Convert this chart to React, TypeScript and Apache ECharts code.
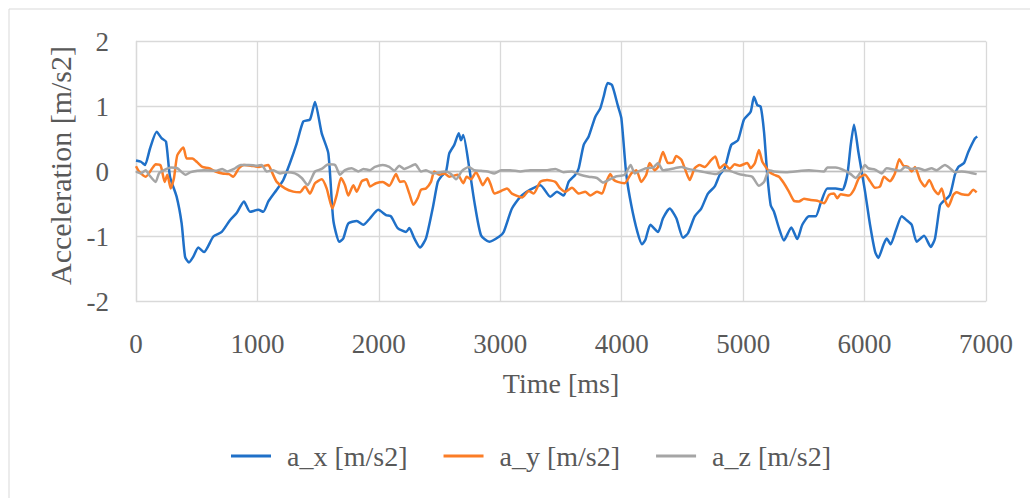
import React, { useEffect, useRef } from "react";
import * as echarts from "echarts";

const xTicks = [0, 1000, 2000, 3000, 4000, 5000, 6000, 7000];
const yTicks = [-2, -1, 0, 1, 2];

const axTime = [0, 41, 74, 115, 170, 212, 247, 280, 335, 376, 404, 436, 472, 513, 560, 637, 706, 774, 829, 889, 939, 1007, 1048, 1090, 1159, 1213, 1268, 1323, 1378, 1433, 1474, 1529, 1584, 1625, 1674, 1707, 1748, 1818, 1872, 1927, 1995, 2059, 2100, 2155, 2224, 2251, 2292, 2339, 2388, 2443, 2485, 2512, 2553, 2580, 2621, 2658, 2676, 2695, 2745, 2786, 2841, 2910, 2992, 3028, 3096, 3165, 3247, 3330, 3412, 3467, 3522, 3563, 3618, 3646, 3687, 3728, 3782, 3823, 3851, 3884, 3920, 3967, 3997, 4038, 4079, 4129, 4167, 4195, 4236, 4299, 4340, 4395, 4450, 4505, 4546, 4601, 4655, 4710, 4766, 4807, 4848, 4902, 4957, 5007, 5062, 5089, 5117, 5144, 5172, 5199, 5227, 5254, 5295, 5336, 5397, 5446, 5487, 5542, 5597, 5638, 5693, 5762, 5817, 5858, 5886, 5913, 5949, 6004, 6045, 6086, 6113, 6155, 6182, 6215, 6259, 6306, 6347, 6388, 6429, 6490, 6545, 6580, 6621, 6648, 6703, 6744, 6772, 6819, 6854, 6909, 6928];
const axValue = [0.17, 0.15, 0.1, 0.35, 0.61, 0.51, 0.46, -0.08, -0.39, -0.8, -1.31, -1.4, -1.31, -1.17, -1.24, -1.0, -0.93, -0.75, -0.64, -0.46, -0.62, -0.59, -0.62, -0.46, -0.28, -0.13, 0.13, 0.43, 0.77, 0.8, 1.07, 0.59, 0.28, -0.75, -1.08, -1.03, -0.8, -0.76, -0.82, -0.72, -0.59, -0.67, -0.69, -0.87, -0.93, -0.87, -1.03, -1.17, -1.03, -0.57, -0.16, -0.08, 0.0, 0.28, 0.41, 0.59, 0.48, 0.56, 0.05, -0.46, -0.98, -1.08, -1.0, -0.93, -0.57, -0.39, -0.28, -0.21, -0.39, -0.31, -0.37, -0.16, -0.05, 0.05, 0.41, 0.54, 0.84, 0.97, 1.15, 1.36, 1.33, 1.02, 0.82, -0.05, -0.52, -0.93, -1.12, -1.05, -0.82, -0.93, -0.72, -0.57, -0.72, -1.02, -0.95, -0.69, -0.57, -0.34, -0.23, -0.05, 0.05, 0.41, 0.48, 0.8, 0.92, 1.15, 1.02, 1.0, 0.61, -0.05, -0.52, -0.62, -0.87, -1.06, -0.86, -1.04, -0.82, -0.69, -0.69, -0.49, -0.26, -0.26, -0.28, -0.05, 0.41, 0.72, 0.3, -0.31, -0.82, -1.23, -1.33, -1.13, -1.03, -1.12, -0.9, -0.69, -0.75, -0.82, -1.08, -0.99, -1.16, -1.03, -0.52, -0.46, -0.36, -0.05, 0.07, 0.13, 0.3, 0.51, 0.54];

const ayTime = [0, 25, 80, 134, 162, 203, 236, 258, 286, 313, 340, 390, 417, 464, 505, 546, 601, 656, 711, 766, 801, 848, 889, 945, 1013, 1089, 1117, 1159, 1227, 1295, 1351, 1392, 1433, 1474, 1529, 1570, 1617, 1653, 1688, 1721, 1748, 1790, 1818, 1859, 1900, 1927, 1976, 2032, 2086, 2141, 2174, 2209, 2251, 2284, 2320, 2347, 2388, 2429, 2456, 2498, 2539, 2580, 2649, 2695, 2723, 2759, 2800, 2827, 2855, 2896, 2923, 2951, 3006, 3055, 3096, 3179, 3234, 3275, 3329, 3385, 3453, 3494, 3535, 3590, 3646, 3700, 3741, 3796, 3838, 3873, 3906, 3934, 3967, 4024, 4079, 4120, 4161, 4202, 4230, 4272, 4299, 4340, 4381, 4422, 4449, 4491, 4519, 4560, 4601, 4642, 4683, 4738, 4771, 4807, 4848, 4889, 4930, 4971, 5034, 5062, 5097, 5130, 5158, 5186, 5213, 5254, 5295, 5336, 5377, 5418, 5460, 5501, 5556, 5611, 5666, 5707, 5748, 5775, 5803, 5872, 5913, 5954, 6003, 6045, 6086, 6127, 6160, 6209, 6250, 6286, 6319, 6360, 6388, 6415, 6456, 6497, 6533, 6572, 6607, 6635, 6662, 6689, 6731, 6758, 6800, 6854, 6895, 6923];
const ayValue = [0.08, 0.0, -0.08, 0.05, 0.11, 0.09, -0.16, -0.05, -0.26, -0.1, 0.25, 0.37, 0.2, 0.2, 0.14, 0.07, 0.05, 0.0, -0.03, -0.04, -0.08, 0.05, 0.1, 0.09, 0.07, 0.1, 0.0, -0.16, -0.26, -0.31, -0.32, -0.23, -0.34, -0.18, -0.12, -0.26, -0.57, -0.36, -0.1, -0.21, -0.37, -0.21, -0.31, -0.15, -0.12, -0.23, -0.18, -0.16, -0.22, -0.04, -0.16, -0.15, -0.34, -0.51, -0.41, -0.28, -0.26, -0.16, 0.0, -0.05, -0.03, -0.08, -0.05, -0.18, -0.08, -0.12, -0.01, -0.1, -0.21, -0.1, -0.21, -0.34, -0.3, -0.26, -0.34, -0.4, -0.3, -0.34, -0.16, -0.13, -0.16, -0.26, -0.31, -0.25, -0.34, -0.31, -0.37, -0.31, -0.34, -0.16, -0.04, -0.13, -0.16, -0.18, -0.03, 0.02, -0.16, -0.05, 0.13, 0.02, 0.07, 0.3, 0.13, 0.14, 0.24, 0.18, 0.05, -0.13, 0.05, 0.1, 0.07, 0.18, 0.23, 0.05, 0.11, 0.04, 0.11, 0.09, 0.13, 0.05, 0.13, 0.33, 0.15, 0.07, 0.0, -0.05, -0.08, -0.18, -0.31, -0.45, -0.46, -0.42, -0.44, -0.45, -0.49, -0.36, -0.34, -0.41, -0.35, -0.37, -0.28, -0.1, -0.05, -0.15, -0.25, -0.23, -0.08, -0.15, -0.03, 0.19, 0.09, 0.07, 0.0, 0.07, -0.13, -0.23, -0.13, -0.28, -0.35, -0.26, -0.44, -0.54, -0.36, -0.32, -0.35, -0.36, -0.28, -0.32];

const azTime = [0, 39, 80, 107, 162, 189, 231, 286, 340, 409, 450, 505, 560, 656, 711, 752, 807, 862, 931, 999, 1035, 1076, 1131, 1186, 1241, 1309, 1365, 1414, 1447, 1474, 1529, 1584, 1639, 1680, 1721, 1776, 1831, 1872, 1927, 1968, 2032, 2086, 2127, 2168, 2209, 2251, 2300, 2347, 2388, 2443, 2553, 2594, 2635, 2685, 2740, 2786, 2841, 2896, 2951, 3006, 3082, 3165, 3247, 3385, 3453, 3522, 3590, 3659, 3728, 3796, 3846, 3893, 3947, 4024, 4074, 4107, 4148, 4202, 4258, 4299, 4340, 4436, 4491, 4546, 4655, 4779, 4834, 4889, 4966, 5021, 5075, 5130, 5172, 5213, 5254, 5350, 5542, 5666, 5693, 5762, 5830, 5886, 5927, 5968, 6003, 6031, 6086, 6141, 6182, 6292, 6333, 6388, 6442, 6497, 6552, 6593, 6662, 6703, 6744, 6800, 6854, 6923];
const azValue = [0.0, -0.03, 0.02, -0.05, -0.16, -0.03, 0.02, 0.06, 0.05, -0.05, -0.01, 0.01, 0.02, 0.01, 0.04, 0.0, 0.04, 0.1, 0.1, 0.09, 0.1, 0.0, 0.02, -0.03, -0.01, -0.03, -0.1, -0.21, -0.1, 0.0, 0.04, 0.11, 0.1, -0.05, 0.02, 0.05, 0.0, 0.04, 0.02, 0.07, 0.1, 0.07, 0.01, 0.09, 0.04, 0.07, 0.11, 0.0, 0.02, -0.03, 0.0, -0.04, -0.12, 0.01, 0.07, 0.02, 0.01, 0.0, -0.03, 0.02, 0.02, 0.0, 0.02, 0.02, 0.04, -0.01, 0.0, -0.05, -0.08, -0.1, -0.17, -0.13, -0.08, -0.05, 0.1, -0.03, 0.01, 0.05, 0.06, 0.13, 0.02, 0.05, 0.07, 0.04, 0.0, -0.04, 0.02, 0.01, -0.04, -0.06, -0.08, -0.22, -0.16, 0.02, 0.0, -0.01, 0.02, 0.0, 0.06, 0.06, 0.02, -0.04, -0.1, -0.01, 0.1, 0.05, 0.03, -0.03, 0.05, 0.01, 0.07, 0.04, 0.05, 0.02, 0.05, 0.02, 0.1, 0.05, -0.01, 0.0, -0.01, -0.04];

const seriesNames = ["a_x [m/s2]", "a_y [m/s2]", "a_z [m/s2]"];
const seriesColors = ["#1f70c8", "#fb7d26", "#a5a5a5"];
const xAxisName = "Time [ms]";
const yAxisName = "Acceleration [m/s2]";

const zip = (t: number[], v: number[]) => t.map((x, i) => [x, v[i]]);

export default function App() {
  const ref = useRef<HTMLDivElement>(null);
  useEffect(() => {
    if (!ref.current) return;
    const chart = echarts.init(ref.current, undefined, { renderer: "svg" });
    const font = "'Liberation Serif', 'DejaVu Serif', serif";
    const textColor = "#595959";
    const datasets = [zip(axTime, axValue), zip(ayTime, ayValue), zip(azTime, azValue)];
    chart.setOption({
      animation: false,
      backgroundColor: "#ffffff",
      textStyle: { fontFamily: font },
      graphic: [
        {
          type: "rect",
          shape: { x: 9, y: 9, width: 1040, height: 520 },
          style: { fill: "none", stroke: "#d9d9d9", lineWidth: 1 },
          silent: true,
        },
      ],
      grid: { left: 136, right: 44, top: 41.5, bottom: 196.5, containLabel: false },
      legend: {
        data: seriesNames,
        bottom: 23,
        left: 226,
        itemWidth: 40,
        itemHeight: 3,
        itemGap: 36,
        icon: "rect",
        textStyle: { color: textColor, fontSize: 28, fontFamily: font, padding: [0, 0, 0, 11] },
      },
      xAxis: {
        type: "value",
        min: xTicks[0],
        max: xTicks[xTicks.length - 1],
        interval: 1000,
        name: xAxisName,
        nameLocation: "middle",
        nameGap: 68,
        nameTextStyle: { color: textColor, fontSize: 28, fontFamily: font },
        axisLine: { show: true, lineStyle: { color: "#bfbfbf", width: 1.3 } },
        axisTick: { show: false },
        axisLabel: {
          color: textColor,
          fontSize: 27,
          fontFamily: font,
          margin: 29,
          formatter: (v: number) => String(v),
        },
        splitLine: { show: true, lineStyle: { color: "#d9d9d9", width: 1.3 } },
      },
      yAxis: {
        type: "value",
        min: yTicks[0],
        max: yTicks[yTicks.length - 1],
        interval: 1,
        name: yAxisName,
        nameLocation: "middle",
        nameGap: 58,
        nameRotate: 90,
        nameTextStyle: { color: textColor, fontSize: 30, fontFamily: font, padding: [0, 0, 0, 12] },
        axisLine: { show: true, lineStyle: { color: "#d9d9d9", width: 1.3 } },
        axisTick: { show: false },
        axisLabel: {
          color: textColor,
          fontSize: 27,
          fontFamily: font,
          margin: 27,
          formatter: (v: number) => String(v),
        },
        splitLine: { show: true, lineStyle: { color: "#d9d9d9", width: 1.3 } },
      },
      series: seriesNames.map((name, i) => ({
        name,
        type: "line",
        data: datasets[i],
        symbol: "none",
        smooth: 0.2,
        lineStyle: { color: seriesColors[i], width: 2.5 },
        itemStyle: { color: seriesColors[i] },
      })),
    });
    return () => chart.dispose();
  }, []);
  return (
    <div
      ref={ref}
      style={{ position: "absolute", left: 0, top: 0, width: 1030, height: 498 }}
    />
  );
}
